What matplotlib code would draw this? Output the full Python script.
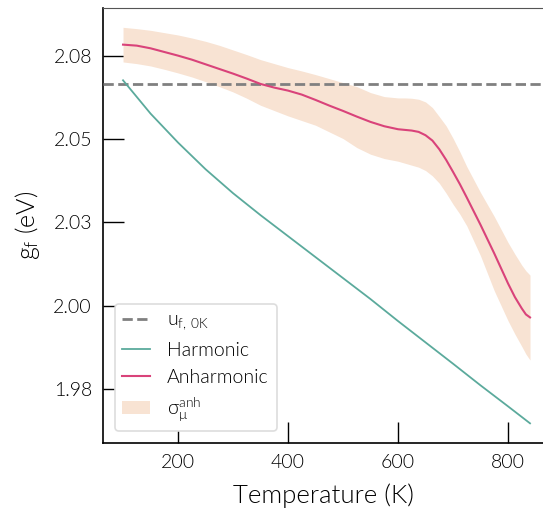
import matplotlib
matplotlib.use("Agg")
import matplotlib.pyplot as plt

plt.rcParams['font.family'] = ['Lato', 'DejaVu Sans']
plt.rcParams['font.weight'] = 300
plt.rcParams['axes.labelweight'] = 300
plt.rcParams['mathtext.default'] = 'regular'

# Temperatures (K)
temp_harm = [100, 150, 200, 250, 300, 350, 400, 450, 500, 550, 600, 650,
             700, 750, 800, 840]
g_harm = [2.0727, 2.0627, 2.0540, 2.0460, 2.0388, 2.0322, 2.0259, 2.0196,
          2.0133, 2.0070, 2.0004, 1.9940, 1.9876, 1.9811, 1.9748, 1.9697]

temp_anh = [100, 125, 150, 175, 200, 225, 250, 275, 300, 325, 350, 375, 400,
            425, 450, 475, 500, 525, 550, 575, 600, 612.5, 625, 637.5, 650,
            662.5, 675, 687.5, 700, 712.5, 725, 750, 775, 800, 812.5, 825,
            832.5, 840]
g_anh = [2.0834, 2.0831, 2.0823, 2.0812, 2.0801, 2.0789, 2.0775, 2.0761,
         2.0747, 2.0732, 2.0716, 2.0705, 2.0696, 2.0684, 2.0668, 2.0651,
         2.0635, 2.0618, 2.0602, 2.0589, 2.0580, 2.0578, 2.0576, 2.0572,
         2.0562, 2.0546, 2.0520, 2.0488, 2.0452, 2.0415, 2.0375, 2.0293,
         2.0207, 2.0117, 2.0076, 2.0042, 2.0024, 2.0015]
g_anh_upper = [2.0886, 2.0882, 2.0877, 2.0870, 2.0863, 2.0854, 2.0844,
               2.0832, 2.0818, 2.0804, 2.0789, 2.0777, 2.0765, 2.0755,
               2.0744, 2.0732, 2.0720, 2.0708, 2.0690, 2.0678, 2.0674,
               2.0674, 2.0673, 2.0670, 2.0662, 2.0645, 2.0618, 2.0590,
               2.0553, 2.0512, 2.0468, 2.0390, 2.0318, 2.0240, 2.0205,
               2.0172, 2.0155, 2.0142]
g_anh_lower = [2.0782, 2.0777, 2.0770, 2.0760, 2.0749, 2.0737, 2.0723,
               2.0708, 2.0692, 2.0673, 2.0652, 2.0636, 2.0620, 2.0606,
               2.0592, 2.0572, 2.0552, 2.0525, 2.0505, 2.0492, 2.0484,
               2.0478, 2.0472, 2.0466, 2.0456, 2.0440, 2.0418, 2.0388,
               2.0355, 2.0325, 2.0290, 2.0200, 2.0095, 2.0005, 1.9965,
               1.9928, 1.9905, 1.9887]

u_f_0K = 2.0715

x_ticks = [200, 400, 600, 800]
y_ticks = [1.98, 2.005, 2.03, 2.055, 2.08]
y_tick_labels = ['1.98', '2.00', '2.03', '2.05', '2.08']

fig = plt.figure(figsize=(5.43, 5.13), dpi=100)
ax = fig.add_axes([0.1897, 0.1365, 0.8103, 0.8479])

ax.axhline(u_f_0K, color='#808080', lw=2.0, ls='--', label=r'$u_{f,\,0K}$',
           zorder=3)
ax.plot(temp_harm, g_harm, color='#5BAA9C', lw=1.3, label='Harmonic',
        zorder=4)
ax.plot(temp_anh, g_anh, color='#D9437A', lw=1.5, label='Anharmonic',
        zorder=4)
ax.fill_between(temp_anh, g_anh_lower, g_anh_upper, color='#F8E3D3',
                lw=0, label=r'$\sigma_\mu^{anh}$', zorder=2)

ax.set_xlim(63.6, 863.6)
ax.set_ylim(1.9638, 2.0944)
ax.set_xticks(x_ticks)
ax.set_yticks(y_ticks)
ax.set_yticklabels(y_tick_labels)

ax.tick_params(direction='in', length=15, width=1.0, labelsize=14, pad=8,
               colors='black')
ax.spines['right'].set_visible(False)
ax.spines['top'].set_color('#555555')
for s in ('left', 'bottom'):
    ax.spines[s].set_linewidth(1.2)

ax.set_xlabel('Temperature (K)', fontsize=18.5, labelpad=9)
ax.set_ylabel(r'$g_f$ (eV)', fontsize=18, labelpad=8)

leg = ax.legend(loc='lower left', fontsize=14, handlelength=1.4,
                handletextpad=0.9, borderaxespad=0.6, frameon=True,
                fancybox=True, edgecolor='#dddddd', framealpha=1.0)
leg.get_frame().set_linewidth(1.2)

fig.savefig('out.png', dpi=100)
